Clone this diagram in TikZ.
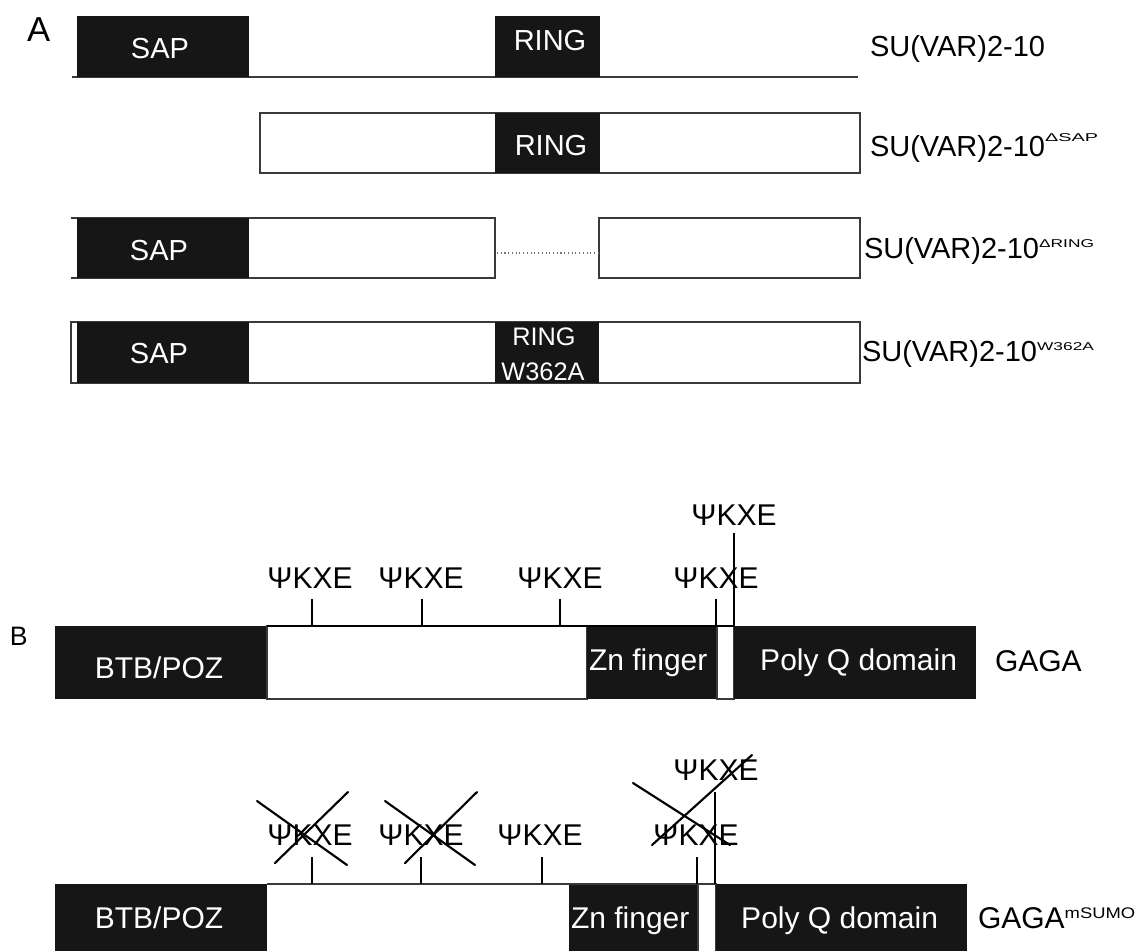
\documentclass[tikz,border=0pt]{standalone}
\usepackage{fontspec}
\setmainfont{Liberation Sans}
\usepackage{graphicx}
\definecolor{domfill}{HTML}{161616}
\definecolor{edge}{HTML}{3A3A3A}

% a box given by its left, right, top and bottom (in px units)
\newcommand\pbox[7][]{\node[#2, #1, minimum width={((#5)-(#4))*0.75pt}, minimum height={((#7)-(#6))*0.75pt}] (#3) at (#4,#6) {};}
% wide, flattened superscript
\newcommand\supx[3]{\scalebox{#1}[1]{\fontsize{#2}{#2}\selectfont #3}}

\begin{document}
\begin{tikzpicture}[x=0.75pt,y=-0.75pt,
  dombox/.style={fill=domfill, draw=none, inner sep=0pt, outer sep=0pt, anchor=north west},
  wbox/.style={fill=white, draw=none, inner sep=0pt, outer sep=0pt, anchor=north west},
  outl/.style={draw=edge, line width=0.8pt},
  txt/.style={inner sep=0pt, outer sep=0pt, font=\fontsize{21.75}{24}\selectfont, anchor=base},
  txtb/.style={txt, font=\fontsize{22.5}{24}\selectfont},
  intxt/.style={txt, text=white},
  intxtb/.style={txtb, text=white},
  supl/.style={inner sep=0pt, outer sep=0pt, anchor=base west},
  tick/.style={draw=black, line width=1pt},
  strike/.style={draw=black, line width=1.6pt, line cap=round},
]
\useasboundingbox (0,0) rectangle (1143,951);

% ---------------- panel A ----------------
\node[txt, anchor=base west, font=\fontsize{26}{28}\selectfont] (la) at (27,41) {A};

% full length protein
\coordinate (r1s) at (72,77);
\coordinate (r1e) at (858,77);
\draw[outl] (r1s) -- (r1e);
\pbox{dombox}{sap1}{77}{249}{16}{77}
\pbox{dombox}{ring1}{495}{600}{16}{77}
\node[intxt] (tsap1) at (160,58) {SAP};
\node[intxt] (tring1) at (550,50) {RING};
\node[txt, anchor=base west] (n1) at (870,56) {SU(VAR)2-10};

% delta SAP
\pbox{wbox}{p2}{260}{860}{113}{173}
\draw[outl] (p2.north west) rectangle (p2.south east);
\pbox{dombox}{ring2}{495}{600}{113}{173}
\node[intxt] (tring2) at (551,155) {RING};
\node[txt, anchor=base west] (n2) at (870,156) {SU(VAR)2-10};
\node[supl] (s2) at ([yshift=11pt]n2.base east) {\supx{1.75}{8.5}{ΔSAP}};

% delta RING
\pbox{wbox}{p3a}{71}{495}{218}{278}
\draw[outl] (p3a.north west) -- (p3a.north east) -- (p3a.south east) -- (p3a.south west);
\pbox{dombox}{sap3}{77}{249}{218}{278}
\node[intxt] (tsap3) at (159,260) {SAP};
\pbox{wbox}{p3b}{599}{860}{218}{278}
\draw[outl] (p3b.north west) rectangle (p3b.south east);
\coordinate (d3a) at (497,253);
\coordinate (d3b) at (598,253);
\draw[black!55, line width=0.8pt, dotted] (d3a) -- (d3b);
\node[txt, anchor=base west] (n3) at (864,258) {SU(VAR)2-10};
\node[supl] (s3) at ([yshift=8pt]n3.base east) {\supx{1.53}{8.5}{ΔRING}};

% W362A point mutant
\pbox{wbox}{p4}{71}{860}{322}{383}
\draw[outl] (p4.north west) rectangle (p4.south east);
\pbox{dombox}{sap4}{77}{249}{322}{383}
\node[intxt] (tsap4) at (159,363) {SAP};
\pbox{dombox}{rw4}{495}{599}{322}{383}
\node[intxt, font=\fontsize{19}{20}\selectfont] (tring4) at (544,345) {RING};
\node[intxt, font=\fontsize{19}{20}\selectfont] (tw4) at (543,380) {W362A};
\node[txt, anchor=base west] (n4) at (862,361) {SU(VAR)2-10};
\node[supl] (s4) at ([yshift=8pt]n4.base east) {\supx{1.53}{8.5}{W362A}};

% ---------------- panel B ----------------
\node[txt, anchor=base west, font=\fontsize{20}{22}\selectfont] (lb) at (10,645) {B};

% GAGA
\pbox{dombox}{btb1}{55}{267}{626}{699}
\pbox{wbox}{w1}{267}{587}{626}{699}
\draw[outl] (w1.north west) rectangle (w1.south east);
\pbox{dombox}{zn1}{587}{717}{626}{699}
\pbox{wbox}{g1}{717}{734}{626}{699}
\draw[outl] (g1.north west) rectangle (g1.south east);
\pbox{dombox}{pq1}{734}{976}{626}{699}
\draw[black, line width=1pt] (w1.north west) -- (g1.north east);
\node[intxtb] (tbtb1) at (159,678) {BTB/POZ};
\node[intxtb, anchor=base west] (tzn1) at (589,670) {Zn finger};
\node[intxtb, anchor=base east] (tpq1) at (957,670) {Poly Q domain};
\node[txtb, anchor=base west] (g1lab) at (995,671) {GAGA};

\node[txtb] (m11) at (310,588) {ΨKXE};
\node[txtb] (m12) at (421,588) {ΨKXE};
\node[txtb] (m13) at (560,588) {ΨKXE};
\node[txtb] (m14) at (716,588) {ΨKXE};
\node[txtb] (m15) at (734,525) {ΨKXE};
\coordinate (k11) at (312,599);
\coordinate (k12) at (422,599);
\coordinate (k13) at (560,599);
\coordinate (k14) at (716,599);
\coordinate (k15) at (734,533);
\foreach \k in {k11,k12,k13,k14,k15}
  \draw[tick] (\k) -- (\k |- w1.north);

% GAGA mSUMO
\pbox{dombox}{btb2}{55}{267}{884}{951}
\pbox{wbox}{w2}{267}{569}{884}{951}
\pbox{dombox}{zn2}{569}{698}{884}{951}
\pbox{wbox}{g2}{698}{716}{884}{951}
\draw[outl] (g2.south west) -- (g2.north west) -- (g2.north east) -- (g2.south east);
\pbox{dombox}{pq2}{716}{967}{884}{951}
\draw[edge, line width=0.9pt] (w2.north west) -- (g2.north east);
\node[intxtb] (tbtb2) at (159,928) {BTB/POZ};
\node[intxtb, anchor=base west] (tzn2) at (571,928) {Zn finger};
\node[intxtb, anchor=base east] (tpq2) at (938,928) {Poly Q domain};
\node[txtb, anchor=base west] (g2lab) at (978,928) {GAGA};
\node[supl] (s5) at ([yshift=7.5pt]g2lab.base east) {\supx{1.2}{11.5}{mSUMO}};

\node[txtb] (m21) at (310,845) {ΨKXE};
\node[txtb] (m22) at (421,845) {ΨKXE};
\node[txtb] (m23) at (540,845) {ΨKXE};
\node[txtb] (m24) at (696,845) {ΨKXE};
\node[txtb] (m25) at (716,780) {ΨKXE};
\coordinate (k21) at (312,857);
\coordinate (k22) at (421,857);
\coordinate (k23) at (542,857);
\coordinate (k24) at (697,857);
\coordinate (k25) at (715,792);
\foreach \k in {k21,k22,k23,k24,k25}
  \draw[tick] (\k) -- (\k |- w2.north);

% mutated sites crossed out
\draw[strike] (257,801) -- (347,865);
\draw[strike] (275,863) -- (348,792);
\draw[strike] (385,801) -- (475,865);
\draw[strike] (405,863) -- (477,792);
\draw[strike] (633,783) -- (730,845);
\draw[strike] (652,845) -- (752,755);
\end{tikzpicture}
\end{document}
